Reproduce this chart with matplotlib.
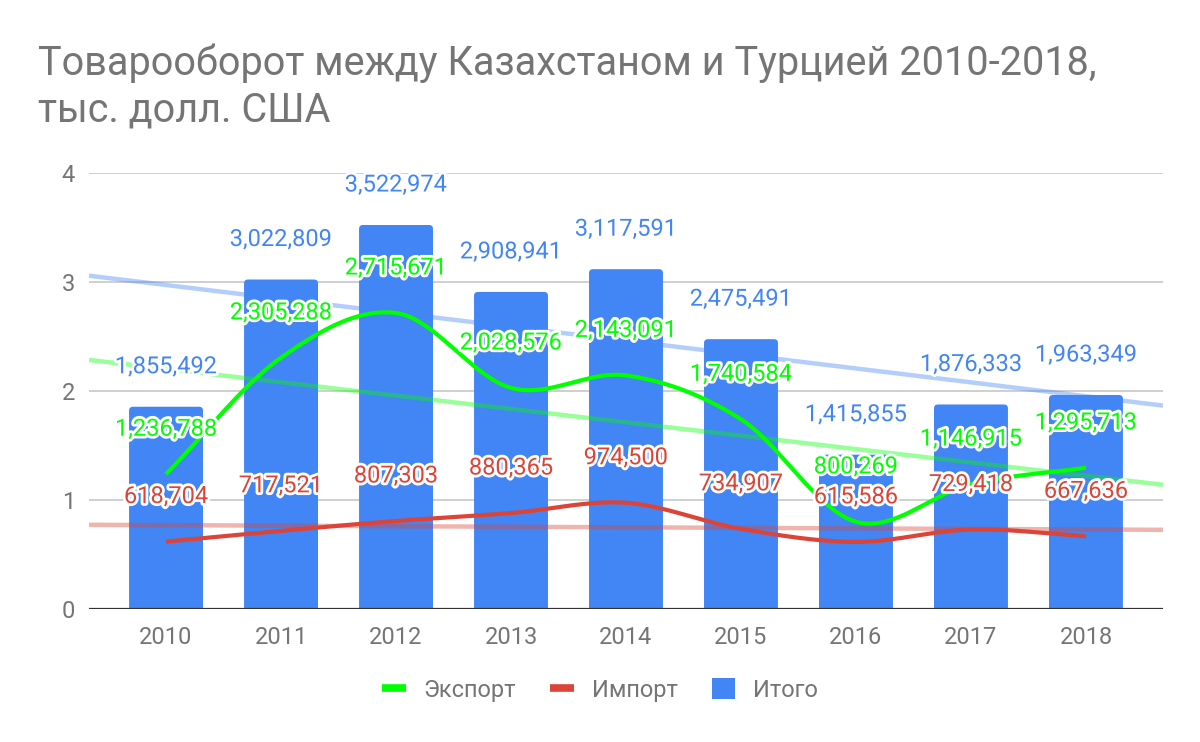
import numpy as np
import matplotlib
matplotlib.use("Agg")
import matplotlib.pyplot as plt
from matplotlib.patches import FancyBboxPatch, Patch
from matplotlib.lines import Line2D
import matplotlib.patheffects as pe

plt.rcParams['font.family'] = ['Roboto', 'DejaVu Sans']

# ---- data (thousand USD) ----
years = ['2010', '2011', '2012', '2013', '2014', '2015', '2016', '2017', '2018']
export_vals = [1236788, 2305288, 2715671, 2028576, 2143091, 1740584, 800269, 1146915, 1295713]
import_vals = [618704, 717521, 807303, 880365, 974500, 734907, 615586, 729418, 667636]
total_vals = [1855492, 3022809, 3522974, 2908941, 3117591, 2475491, 1415855, 1876333, 1963349]
series_names = ['Экспорт', 'Импорт', 'Итого']
title_lines = ['Товарооборот между Казахстаном и Турцией 2010-2018,', 'тыс. долл. США']
yticks = [0, 1, 2, 3, 4]

C_EXP = '#00ff00'
C_IMP = '#db4437'
C_TOT = '#4285f4'
GRAY = '#757575'

fig = plt.figure(figsize=(12, 7.42), dpi=100)
ax = fig.add_axes([89/1200, 1-609/742, (1163-89)/1200, (609-173)/742])

x = np.arange(len(years))
exp = np.array(export_vals) / 1e6
imp = np.array(import_vals) / 1e6
tot = np.array(total_vals) / 1e6

ax.set_xlim(-0.67, len(years) - 1 + 0.67)
ax.set_ylim(0, 4)

# bars with slightly rounded corners
bw = 0.643
for xi, h in zip(x, tot):
    p = FancyBboxPatch((xi - bw/2, -0.1), bw, h + 0.1,
                       boxstyle="round,pad=0,rounding_size=0.035",
                       fc=C_TOT, ec='none', zorder=2, mutation_aspect=1.0)
    ax.add_patch(p)

# smooth curve: cubic Hermite with Catmull-Rom tangents
def smooth(xs, ys, n=40):
    xs = np.asarray(xs, float); ys = np.asarray(ys, float)
    m = np.zeros_like(ys)
    m[1:-1] = (ys[2:] - ys[:-2]) / (xs[2:] - xs[:-2])
    m[0] = (ys[1] - ys[0]) / (xs[1] - xs[0])
    m[-1] = (ys[-1] - ys[-2]) / (xs[-1] - xs[-2])
    ox, oy = [], []
    for i in range(len(xs) - 1):
        h = xs[i+1] - xs[i]
        t = np.linspace(0, 1, n, endpoint=(i == len(xs) - 2))
        h00 = 2*t**3 - 3*t**2 + 1
        h10 = t**3 - 2*t**2 + t
        h01 = -2*t**3 + 3*t**2
        h11 = t**3 - t**2
        ox.append(xs[i] + t*h)
        oy.append(h00*ys[i] + h10*h*m[i] + h01*ys[i+1] + h11*h*m[i+1])
    return np.concatenate(ox), np.concatenate(oy)

# trend lines (linear regression)
xl = np.array(ax.get_xlim())
for vals, c in [(tot, C_TOT), (exp, C_EXP), (imp, C_IMP)]:
    k, b = np.polyfit(x, vals, 1)
    ax.plot(xl, k*xl + b, color=c, alpha=0.4, lw=3.2, zorder=3, solid_capstyle='butt')

sx, sy = smooth(x, exp)
ax.plot(sx, sy, color=C_EXP, lw=3.0, zorder=4, solid_capstyle='butt')
sx, sy = smooth(x, imp)
ax.plot(sx, sy, color=C_IMP, lw=3.0, zorder=4, solid_capstyle='butt')

# axis 0 line & grid
ax.axhline(0, color='#333333', lw=1.6, zorder=3.5)
ax.set_yticks(yticks)
ax.set_yticklabels([str(t) for t in yticks])
ax.yaxis.grid(True, color='#cccccc', lw=1.3)
ax.set_axisbelow(True)
for s in ax.spines.values():
    s.set_visible(False)
ax.set_xticks(x)
ax.set_xticklabels(years)
ax.tick_params(axis='both', length=0, labelsize=17, labelcolor=GRAY)
ax.tick_params(axis='y', pad=10)
ax.tick_params(axis='x', pad=12)

# data labels
stroke = [pe.withStroke(linewidth=4, foreground='white')]
px = 72/100  # pixels -> points
exp_off = [45, 45, 45, 45, 45, 45, 55, 45, 45]
for xi, v, raw, o in zip(x, exp, export_vals, exp_off):
    ax.annotate(f"{raw:,}", (xi, v), xytext=(0, o*px), textcoords='offset points',
                ha='center', va='center', fontsize=17, color=C_EXP,
                path_effects=stroke, zorder=6, annotation_clip=False)
for xi, v, raw in zip(x, imp, import_vals):
    ax.annotate(f"{raw:,}", (xi, v), xytext=(0, 45*px), textcoords='offset points',
                ha='center', va='center', fontsize=17, color=C_IMP,
                path_effects=stroke, zorder=6, annotation_clip=False)
for xi, v, raw in zip(x, tot, total_vals):
    ax.annotate(f"{raw:,}", (xi, v), xytext=(0, 40*px), textcoords='offset points',
                ha='center', va='center', fontsize=17, color=C_TOT,
                path_effects=stroke, zorder=6, annotation_clip=False)

# title
fig.text(38/1200, 1-75/742, title_lines[0], fontsize=28.5, color=GRAY, ha='left', va='baseline')
fig.text(38/1200, 1-122/742, title_lines[1], fontsize=28.5, color=GRAY, ha='left', va='baseline')

# legend
handles = [Line2D([], [], color=C_EXP, lw=5.5, solid_capstyle='butt'),
           Line2D([], [], color=C_IMP, lw=5.5, solid_capstyle='butt'),
           Patch(fc=C_TOT, ec='none')]
leg = fig.legend(handles, series_names, loc='center', bbox_to_anchor=(0.5, 1-690/742),
                 ncol=3, frameon=False, fontsize=17, labelcolor=GRAY,
                 handlelength=1.0, handleheight=1.0, handletextpad=0.75,
                 columnspacing=1.45)

fig.savefig('out.png', dpi=100)
